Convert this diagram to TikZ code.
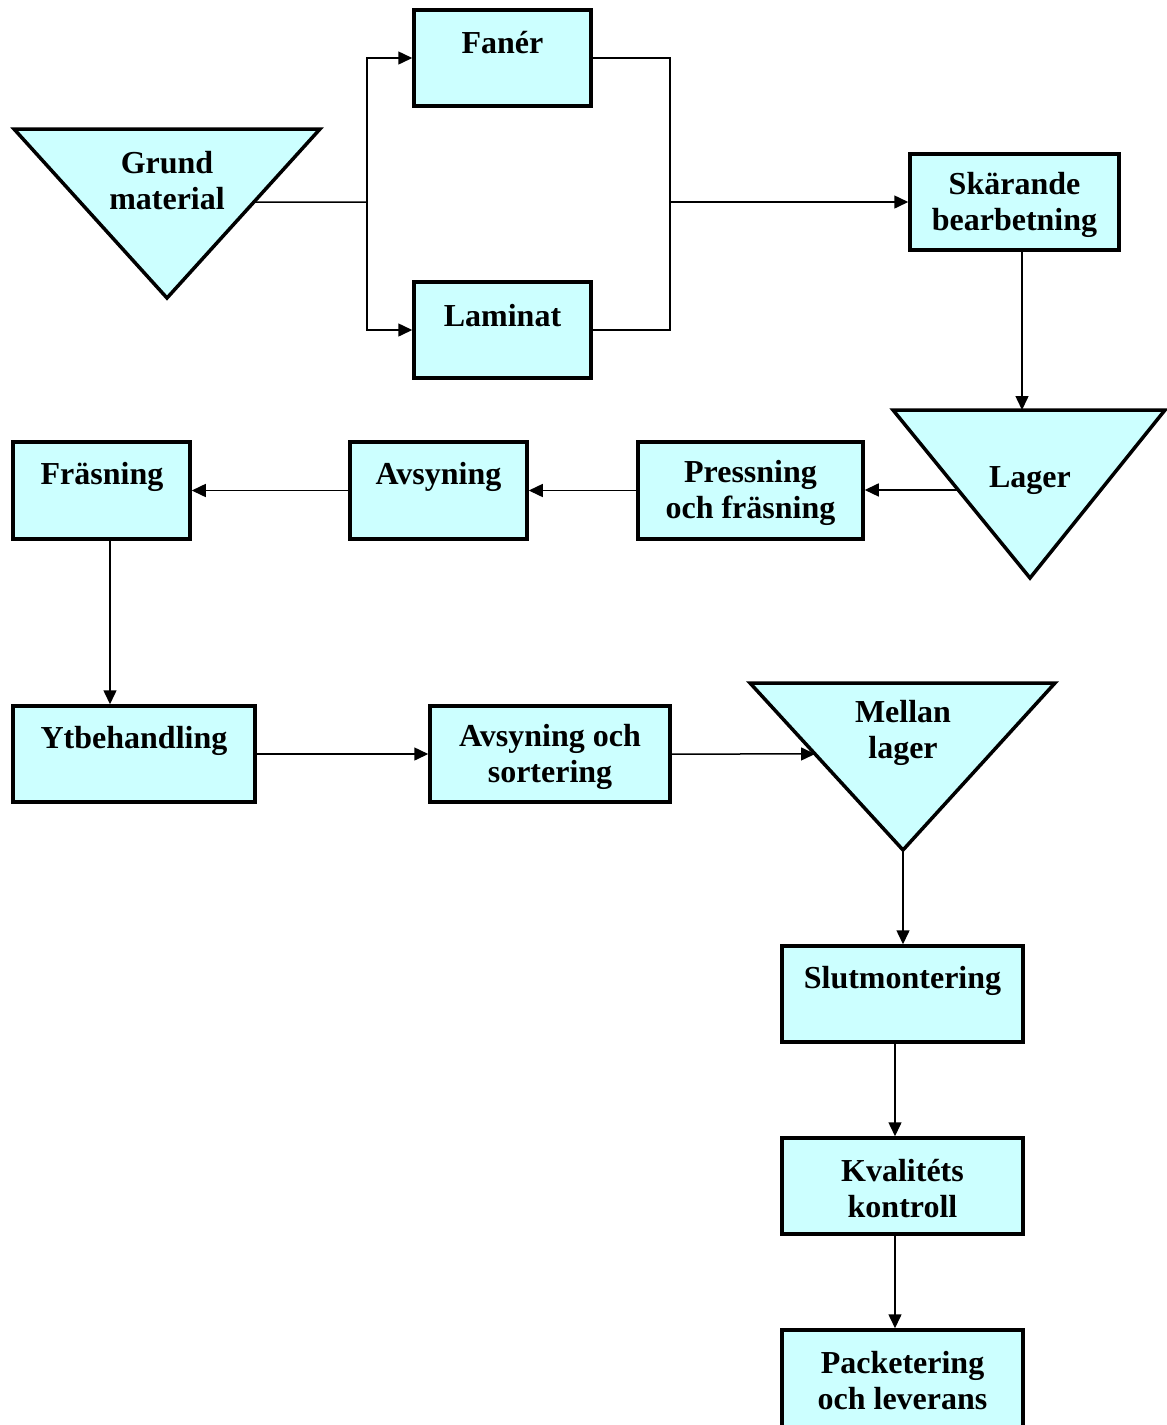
\documentclass[tikz,border=0pt]{standalone}
\usepackage{fontspec}
\setmainfont{Liberation Serif}
\usetikzlibrary{arrows.meta,calc}
\definecolor{cyanfill}{HTML}{CCFFFF}
\begin{document}
\begin{tikzpicture}[x=1pt,y=-1pt,
  box/.style={draw, line width=3.5pt, fill=cyanfill, inner sep=0pt},
  tri/.style={draw, line width=3.5pt, fill=cyanfill},
  lbl/.style={font=\bfseries\fontsize{32}{36}\selectfont, align=center, inner sep=0pt},
  conn/.style={line width=1.5pt, -{Triangle[length=14pt,width=13pt]}},
  line/.style={line width=1.5pt}]
\useasboundingbox (0,0) rectangle (1167,1425);
% boxes
\node[box, minimum width=177pt, minimum height=96pt] (fan) at (502.5,58) {};
\node[box, minimum width=177pt, minimum height=96pt] (lam) at (502.5,330) {};
\node[box, minimum width=209pt, minimum height=96pt] (ska) at (1014.5,202) {};
\node[box, minimum width=225pt, minimum height=97pt] (pre) at (750.5,490.5) {};
\node[box, minimum width=177pt, minimum height=97pt] (avs) at (438.5,490.5) {};
\node[box, minimum width=177pt, minimum height=97pt] (fra) at (101.5,490.5) {};
\node[box, minimum width=242pt, minimum height=96pt] (ytb) at (134,754) {};
\node[box, minimum width=240pt, minimum height=96pt] (aso) at (550,754) {};
\node[box, minimum width=241pt, minimum height=96pt] (slu) at (902.5,994) {};
\node[box, minimum width=241pt, minimum height=96pt] (kva) at (902.5,1186) {};
\node[box, minimum width=241pt, minimum height=100pt] (pac) at (902.5,1380) {};
% triangles
\coordinate (g1) at (14,129); \coordinate (g2) at (320,129); \coordinate (g3) at (167,298);
\coordinate (l1) at (893,410); \coordinate (l2) at (1165,410); \coordinate (l3) at (1030,578);
\coordinate (m1) at (750,683); \coordinate (m2) at (1055,683); \coordinate (m3) at (903,850);
\draw[tri] (g1) -- (g2) -- (g3) -- cycle;
\draw[tri] (l1) -- (l2) -- (l3) -- cycle;
\draw[tri] (m1) -- (m2) -- (m3) -- cycle;
% labels
\node[lbl] (fant) at (502.5,43) {Fanér};
\node[lbl] (lamt) at (502.5,316) {Laminat};
\node[lbl] (grt) at (167,181) {Grund\\material};
\node[lbl] (skat) at (1014.5,205) {Skärande\\bearbetning};
\node[lbl] (lagt) at (1030,481) {Lager};
\node[lbl] (pret) at (750.5,493) {Pressning\\och fräsning};
\node[lbl] (avst) at (438.5,477) {Avsyning};
\node[lbl] (frat) at (102,477) {Fräsning};
\node[lbl] (ytbt) at (134,741) {Ytbehandling};
\node[lbl] (asot) at (550,757) {Avsyning och\\sortering};
\node[lbl] (melt) at (903,733) {Mellan\\lager};
\node[lbl] (slut) at (902.5,981) {Slutmontering};
\node[lbl] (kvat) at (902.5,1189) {Kvalitéts\\kontroll};
\node[lbl] (pact) at (902.5,1381) {Packetering\\och leverans};
% connector points
\coordinate (gout) at ($(g2)!0.432!(g3)$);
\coordinate (j1) at (367,202);
\coordinate (j2) at (670,202);
\coordinate (skaout) at (1022,250);
\coordinate (lagin) at (1022,410);
\coordinate (lagout) at ($(l1)!0.476!(l3)$);
\coordinate (fraout) at (110,539);
\coordinate (melin) at ($(m1)!0.425!(m3)$);
\coordinate (sluout) at (895,1042);
% connectors
\draw[line] (gout) -- (j1);
\draw[conn] (j1) |- (fan.west);
\draw[conn] (j1) |- (lam.west);
\draw[line] (fan.east) -| (j2);
\draw[line] (lam.east) -| (j2);
\draw[conn] (j2) -- (ska.west);
\draw[conn] (skaout) -- (lagin);
\draw[conn] (lagout) -- (lagout -| pre.east);
\draw[conn] (pre.west) -- (avs.east);
\draw[conn] (avs.west) -- (fra.east);
\draw[conn] (fraout) -- (fraout |- ytb.north);
\draw[conn] (ytb.east) -- (aso.west);
\draw[conn] (aso.east) -- (melin);
\draw[conn] (m3) -- (m3 |- slu.north);
\draw[conn] (sluout) -- (sluout |- kva.north);
\draw[conn] (sluout |- kva.south) -- (sluout |- pac.north);
\end{tikzpicture}
\end{document}
